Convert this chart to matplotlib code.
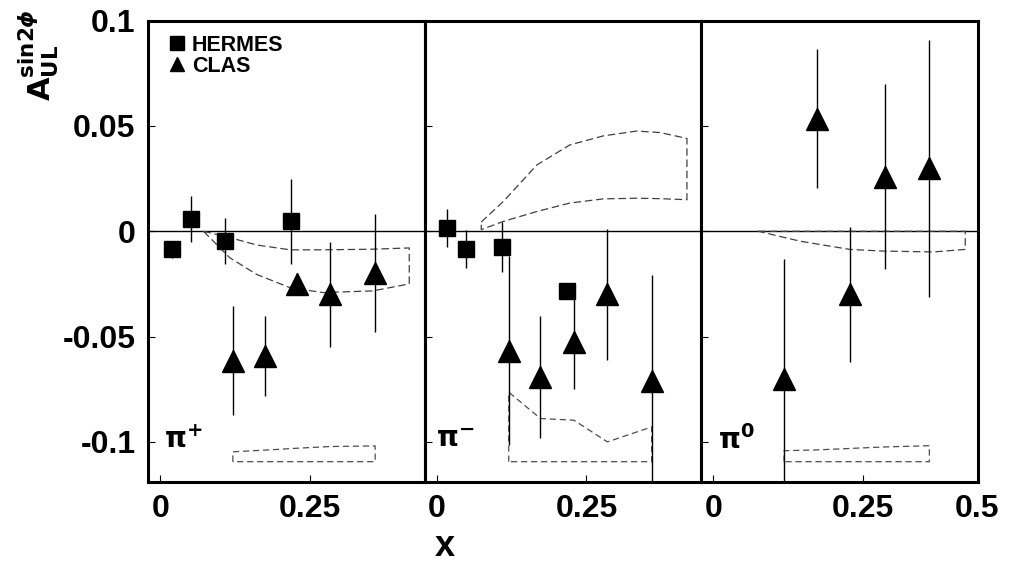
import numpy as np
import matplotlib
matplotlib.use('Agg')
import matplotlib.pyplot as plt
from matplotlib.lines import Line2D

plt.rcParams['font.family'] = ['Liberation Sans', 'DejaVu Sans']
plt.rcParams['font.weight'] = 'bold'
plt.rcParams['mathtext.fontset'] = 'dejavusans'

# 1. Data
# pi+
x_hermes_pip = [0.019, 0.051, 0.108, 0.218]
y_hermes_pip = [-0.0085, 0.0057, -0.0047, 0.0047]
e_hermes_pip = [0.004, 0.011, 0.011, 0.020]
x_clas_pip = [0.121, 0.175, 0.229, 0.284, 0.359]
y_clas_pip = [-0.0614, -0.059, -0.025, -0.0299, -0.0197]
e_clas_pip = [0.026, 0.019, 0.005, 0.025, 0.028]
# pi-
x_hermes_pim = [0.016, 0.049, 0.108, 0.217]
y_hermes_pim = [0.0016, -0.0082, -0.0074, -0.0283]
e_hermes_pim = [0.009, 0.009, 0.012, 0.003]
x_clas_pim = [0.120, 0.173, 0.229, 0.285, 0.359]
y_clas_pim = [-0.0567, -0.0693, -0.0528, -0.0299, -0.0709]
e_clas_pim = [0.045, 0.029, 0.022, 0.031, 0.050]
# pi0
x_clas_pi0 = [0.118, 0.173, 0.229, 0.287, 0.361]
y_clas_pi0 = [-0.070, 0.0535, -0.0299, 0.026, 0.0299]
e_clas_pi0 = [0.057, 0.033, 0.032, 0.044, 0.061]

# theory bands (upper / lower edge)
th_x_pip = [0.072, 0.116, 0.161, 0.217, 0.272, 0.355, 0.416]
th_hi_pip = [0, -0.003, -0.0065, -0.0088, -0.0088, -0.0085, -0.0079]
th_lo_pip = [0, -0.0126, -0.0205, -0.0268, -0.0291, -0.0283, -0.025]
th_x_pim = [0.074, 0.111, 0.167, 0.222, 0.278, 0.334, 0.373, 0.418]
th_hi_pim = [0.0044, 0.0142, 0.0315, 0.041, 0.0453, 0.0476, 0.0469, 0.0441]
th_lo_pim = [0.0008, 0.0047, 0.0094, 0.0134, 0.0154, 0.0157, 0.0155, 0.015]
th_x_pi0 = [0.075, 0.145, 0.228, 0.284, 0.368, 0.421]
th_hi_pi0 = [0, 0, 0, 0, 0, 0]
th_lo_pi0 = [0, -0.0047, -0.0086, -0.0094, -0.0098, -0.0086]

# systematic error bands (CLAS)
sys_pip = [-0.1047, -0.1039, -0.103, -0.1022, -0.1019]
sys_pim = [-0.0764, -0.0889, -0.0897, -0.100, -0.0929]
sys_pi0 = [-0.1042, -0.1038, -0.1031, -0.1024, -0.1018]
sys_base = -0.1094

panel_names = [r'$\mathbf{\pi^{+}}$', r'$\mathbf{\pi^{-}}$', r'$\mathbf{\pi^{0}}$']
y_ticks = [0.1, 0.05, 0, -0.05, -0.1]
y_ticklabels = ['0.1', '0.05', '0', '-0.05', '-0.1']

panels = [
    (x_hermes_pip, y_hermes_pip, e_hermes_pip, x_clas_pip, y_clas_pip, e_clas_pip,
     th_x_pip, th_hi_pip, th_lo_pip, sys_pip),
    (x_hermes_pim, y_hermes_pim, e_hermes_pim, x_clas_pim, y_clas_pim, e_clas_pim,
     th_x_pim, th_hi_pim, th_lo_pim, sys_pim),
    (None, None, None, x_clas_pi0, y_clas_pi0, e_clas_pi0,
     th_x_pi0, th_hi_pi0, th_lo_pi0, sys_pi0),
]

# 2. Figure
fig = plt.figure(figsize=(10.11, 5.75), dpi=100)
left, width = 148 / 1011, 276.5 / 1011
bottom, height = 1 - 481.7 / 575, (481.7 - 20.7) / 575
xlim = (-0.0209, 0.4415)
ylim = (-0.1189, 0.0989)

for i, (xh, yh, eh, xc, yc, ec, tx, thi, tlo, sy) in enumerate(panels):
    ax = fig.add_axes([left + i * width, bottom, width, height])
    ax.set_xlim(*xlim)
    ax.set_ylim(*ylim)
    ax.axhline(0, color='k', lw=1.0, zorder=1)

    # theory band outline
    tx = np.array(tx)
    bx = np.r_[tx, tx[::-1], tx[0]]
    by = np.r_[thi, tlo[::-1], thi[0]]
    ax.plot(bx, by, color='0.25', lw=0.9, dashes=(6, 3), zorder=2)

    # systematic band outline
    xc_a = np.array(xc)
    sx = np.r_[xc_a[0], xc_a, xc_a[-1], xc_a[0]]
    sy_ = np.r_[sys_base, sy, sys_base, sys_base]
    ax.plot(sx, sy_, color='0.3', lw=0.9, dashes=(5, 3), zorder=2)

    if xh is not None:
        ax.errorbar(xh, yh, yerr=eh, fmt='s', color='k', ms=12, lw=1.0,
                    capsize=0, zorder=4)
    ax.errorbar(xc, yc, yerr=ec, fmt='^', color='k', ms=16, lw=1.0,
                capsize=0, zorder=4)

    ax.text(0.127 if i != 1 else 0.11, 0.09, panel_names[i], transform=ax.transAxes,
            fontsize=20, ha='center', va='center')

    for s in ax.spines.values():
        s.set_linewidth(2.2)
    ax.tick_params(direction='in', length=5, width=0.8, labelsize=23, pad=9)
    ax.set_yticks(y_ticks)
    if i == 0:
        ax.set_yticklabels(y_ticklabels)
    else:
        ax.set_yticklabels([])
    if i == 2:
        ax.set_xticks([0, 0.25, xlim[1]])
        ax.set_xticklabels(['0', '0.25', '0.5'])
    else:
        ax.set_xticks([0, 0.25])
        ax.set_xticklabels(['0', '0.25'])

    if i == 0:
        handles = [Line2D([], [], marker='s', color='k', ls='none', ms=10),
                   Line2D([], [], marker='^', color='k', ls='none', ms=10)]
        ax.legend(handles, ['HERMES', 'CLAS'], loc='upper left', frameon=False,
                  prop={'size': 15.5, 'weight': 'bold'}, handlelength=0.6,
                  handletextpad=0.4, labelspacing=0.0,
                  bbox_to_anchor=(0.03, 1.0), borderaxespad=0.25)

# 3. Axis titles
fig.text(0.038, 0.905, r'$\mathbf{A}_{\mathbf{UL}}^{\mathbf{sin2}\phi}$',
         rotation=90, fontsize=22, ha='center', va='center')
fig.text(0.44, 0.05, 'x', fontsize=26, fontweight='bold', ha='center', va='center')

plt.savefig('out.png', dpi=100)
